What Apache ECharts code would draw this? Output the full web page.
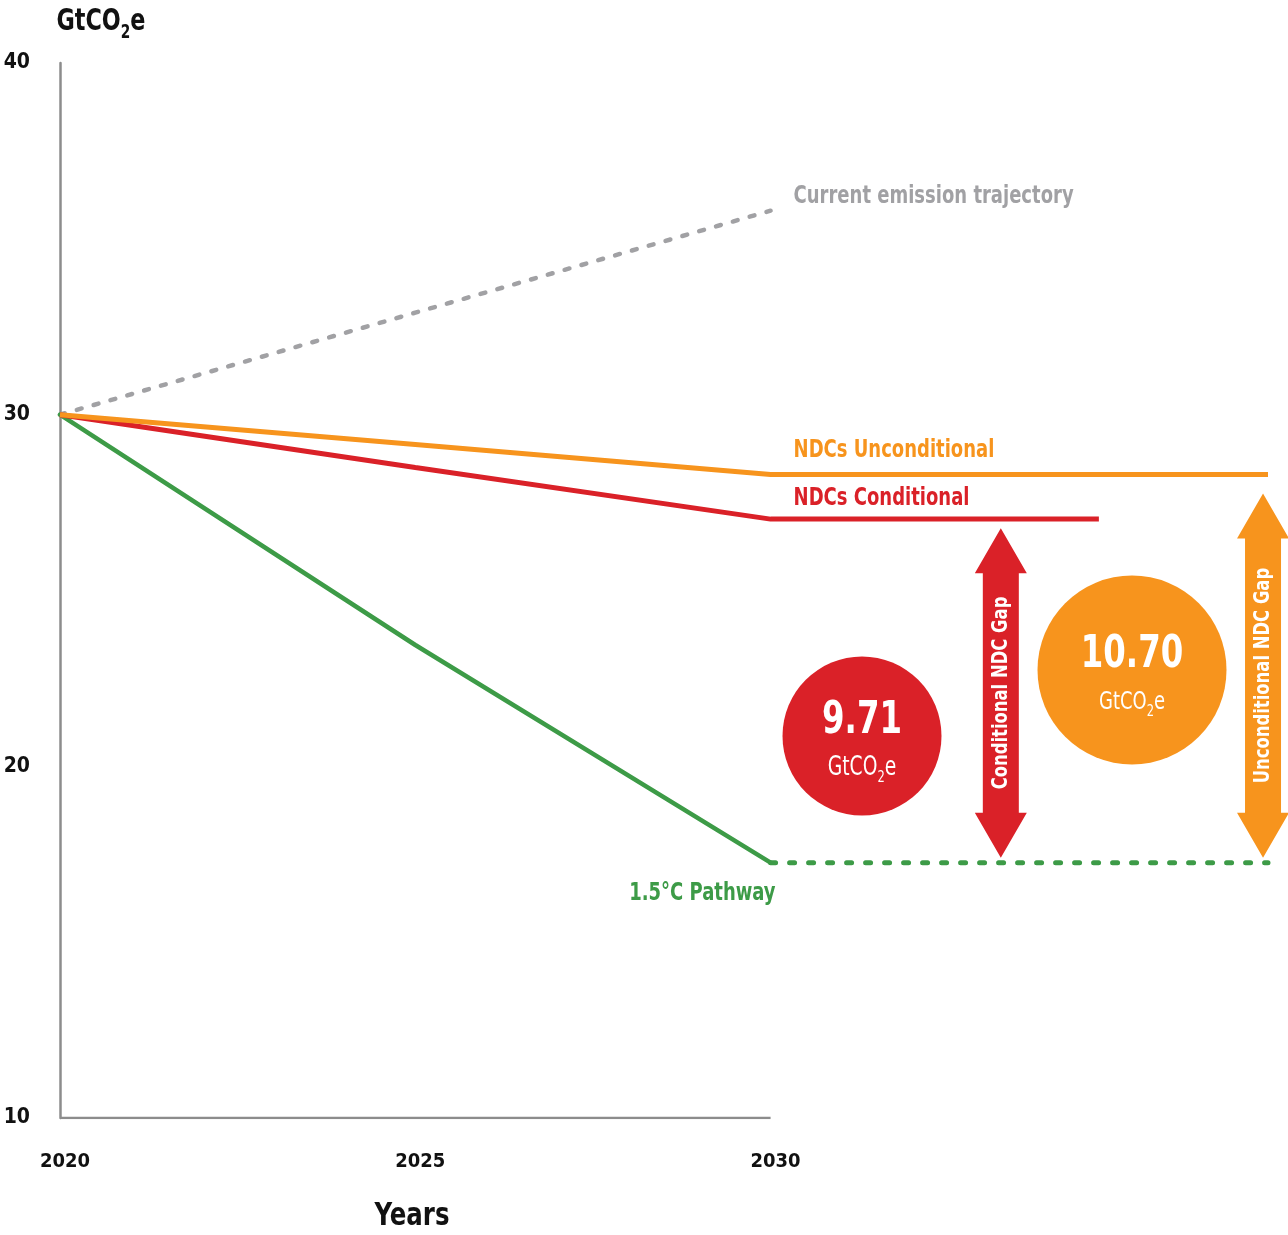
<!DOCTYPE html>
<html>
<head>
<meta charset="utf-8">
<script src="https://cdn.jsdelivr.net/npm/echarts@6/dist/echarts.min.js"></script>
<style>
  html, body { margin: 0; padding: 0; background: #ffffff; }
  #chart { width: 1288px; height: 1235px; }
</style>
</head>
<body>
<div id="chart"></div>
<script>
// Emission pathways, GtCO2e
const years = [2020, 2025, 2030];
const currentTrajectory = [30, 32.9, 35.8];
const ndcUnconditional = [30, 29.15, 28.3];
const ndcConditional = [30, 28.5, 27.03];
const pathway15 = [30, 23.45, 17.26];

// flat continuations beyond 2030
const unconditionalEndYear = 2037;
const conditionalEndYear = 2034.62;
const pathwayEndYear = 2037;

// emission gaps to the 1.5°C pathway in 2030
const gapNames = ['Conditional NDC Gap', 'Unconditional NDC Gap'];
const gapValues = [9.71, 10.70];
const gapArrowYears = [2033.24, 2036.93];

const yTicks = [10, 20, 30, 40];
const xTickLabels = ['2020', '2025', '2030'];

const FONT = '"Liberation Sans Narrow", "DejaVu Sans Condensed", "Roboto", sans-serif';
const NARROW = 0.8; // horizontal squeeze for a condensed look
const C_GRAY = '#a1a1a4';
const C_ORANGE = '#f7941d';
const C_RED = '#da2128';
const C_GREEN = '#3d9b47';
const C_AXIS = '#8c8c8c';
const gapColors = [C_RED, C_ORANGE];

const zip = (xs, ys) => xs.map((x, i) => [x, ys[i]]);
const last = a => a[a.length - 1];
const lastYear = last(years);

const chart = echarts.init(document.getElementById('chart'));

const arrowData = gapValues.map((g, i) => [gapArrowYears[i], last(pathway15), g]);

chart.setOption({
  animation: false,
  backgroundColor: '#ffffff',
  grid: { left: 60, right: 20, top: 63, height: 1055 },
  xAxis: {
    type: 'value',
    min: 2020,
    max: 2037,
    interval: 5,
    axisLine: { show: false },
    axisTick: { show: false },
    splitLine: { show: false },
    axisLabel: {
      margin: 34,
      padding: [0, 0, 0, 10],
      color: '#111111',
      fontFamily: FONT,
      fontWeight: 'bold',
      fontSize: 20,
      formatter: v => xTickLabels.includes(String(v)) ? String(v) : ''
    }
  },
  yAxis: {
    type: 'value',
    min: yTicks[0],
    max: last(yTicks),
    interval: 10,
    axisLine: { show: true, lineStyle: { color: C_AXIS, width: 2.5 } },
    axisTick: { show: false },
    splitLine: { show: false },
    axisLabel: {
      margin: 30,
      padding: [6, 0, 0, 0],
      color: '#111111',
      fontFamily: FONT,
      fontWeight: 'bold',
      fontSize: 21
    }
  },
  series: [
    {
      name: 'x baseline',
      type: 'line',
      symbol: 'none',
      silent: true,
      data: [[years[0], yTicks[0]], [lastYear, yTicks[0]]],
      lineStyle: { color: C_AXIS, width: 2.5 }
    },
    {
      name: 'Current emission trajectory',
      type: 'line',
      symbol: 'none',
      data: zip(years, currentTrajectory),
      lineStyle: { color: C_GRAY, width: 4.5, type: [5, 12.5], cap: 'round' },
      z: 3
    },
    {
      name: 'NDCs Unconditional',
      type: 'line',
      symbol: 'none',
      data: zip(years, ndcUnconditional).concat([[unconditionalEndYear, last(ndcUnconditional)]]),
      lineStyle: { color: C_ORANGE, width: 5 },
      z: 5
    },
    {
      name: 'NDCs Conditional',
      type: 'line',
      symbol: 'none',
      data: zip(years, ndcConditional).concat([[conditionalEndYear, last(ndcConditional)]]),
      lineStyle: { color: C_RED, width: 5 },
      z: 4
    },
    {
      name: '1.5°C Pathway',
      type: 'line',
      symbol: 'none',
      data: zip(years, pathway15),
      lineStyle: { color: C_GREEN, width: 4.5, cap: 'round' },
      z: 3
    },
    {
      name: '1.5°C Pathway level',
      type: 'line',
      symbol: 'none',
      data: [[lastYear, last(pathway15)], [pathwayEndYear, last(pathway15)]],
      lineStyle: { color: C_GREEN, width: 5, type: [5, 14], cap: 'round' },
      z: 3
    },
    {
      name: 'Gaps',
      type: 'custom',
      clip: false,
      data: arrowData,
      z: 6,
      renderItem: function (params, api) {
        const i = params.dataIndex;
        const x = api.value(0), base = api.value(1), gap = api.value(2);
        const top = api.coord([x, base + gap]);
        const bot = api.coord([x, base]);
        const cx = top[0];
        const y1 = top[1] + 7, y2 = bot[1] - 5;
        const sw = 18, hw = 26, hh = 45;
        const pts = [
          [cx, y1], [cx + hw, y1 + hh], [cx + sw, y1 + hh],
          [cx + sw, y2 - hh], [cx + hw, y2 - hh], [cx, y2],
          [cx - hw, y2 - hh], [cx - sw, y2 - hh], [cx - sw, y1 + hh],
          [cx - hw, y1 + hh]
        ];
        return {
          type: 'group',
          children: [
            { type: 'polygon', shape: { points: pts }, style: { fill: gapColors[i] } },
            {
              type: 'text',
              x: cx,
              y: (y1 + y2) / 2,
              rotation: Math.PI / 2,
              scaleX: 0.83,
              style: {
                text: gapNames[i],
                fill: '#ffffff',
                fontFamily: FONT,
                fontWeight: 'bold',
                fontSize: 22,
                align: 'center',
                verticalAlign: 'middle'
              }
            }
          ]
        };
      }
    }
  ]
});

// annotations placed from the axes' own scales
const px = (x, y) => chart.convertToPixel({ gridIndex: 0 }, [x, y]);
const pGray = px(lastYear, last(currentTrajectory));
const pOrange = px(lastYear, last(ndcUnconditional));
const pRed = px(lastYear, last(ndcConditional));
const pGreen = px(lastYear, last(pathway15));

const subText = (x, y, size, big, fill) => ({
  type: 'text',
  x: x, y: y,
  scaleX: NARROW,
  style: {
    text: '{a|GtCO}{s|2}{a|e}',
    fill: fill,
    align: 'center',
    verticalAlign: 'middle',
    rich: {
      a: { fontFamily: FONT, fontWeight: big ? 'bold' : 'normal', fontSize: size, fill: fill, lineHeight: size * 1.2 },
      s: { fontFamily: FONT, fontWeight: big ? 'bold' : 'normal', fontSize: Math.round(size * 0.62), fill: fill, padding: [Math.round(size * 0.75), 0, 0, 0], lineHeight: size * 1.2 }
    }
  }
});

const lineLabel = (text, x, y, color, align) => ({
  type: 'text',
  x: x, y: y,
  scaleX: NARROW,
  style: {
    text: text, fill: color, fontFamily: FONT, fontWeight: 'bold', fontSize: 25,
    align: align || 'left', verticalAlign: 'middle'
  }
});

const circles = [
  { cx: 862, cy: 736, r: 79.5, color: C_RED, numSize: 45, numY: 721, unitY: 768, unitSize: 26 },
  { cx: 1132, cy: 670, r: 94.5, color: C_ORANGE, numSize: 45, numY: 655, unitY: 702, unitSize: 25 }
];

const graphics = [
  subText(101, 22, 31, true, '#111111'),
  {
    type: 'text', x: 412, y: 1217, scaleX: 0.85,
    style: { text: 'Years', fill: '#111111', fontFamily: FONT, fontWeight: 'bold', fontSize: 32, align: 'center', verticalAlign: 'middle' }
  },
  lineLabel('Current emission trajectory', pGray[0] + 23, pGray[1] - 14, C_GRAY),
  lineLabel('NDCs Unconditional', pOrange[0] + 23, pOrange[1] - 24, C_ORANGE),
  lineLabel('NDCs Conditional', pRed[0] + 23, pRed[1] - 21, C_RED),
  lineLabel('1.5°C Pathway', pGreen[0] + 5, pGreen[1] + 31, C_GREEN, 'right')
];

circles.forEach((c, i) => {
  graphics.push({ type: 'circle', shape: { cx: c.cx, cy: c.cy, r: c.r }, style: { fill: c.color }, z: 10 });
  graphics.push({
    type: 'text', x: c.cx, y: c.numY, z: 11, scaleX: NARROW,
    style: { text: gapValues[i].toFixed(2), fill: '#ffffff', fontFamily: FONT, fontWeight: 'bold', fontSize: c.numSize, align: 'center', verticalAlign: 'middle' }
  });
  graphics.push(Object.assign(subText(c.cx, c.unitY, c.unitSize, false, '#ffffff'), { z: 11 }));
});

chart.setOption({ graphic: graphics });
</script>
</body>
</html>
